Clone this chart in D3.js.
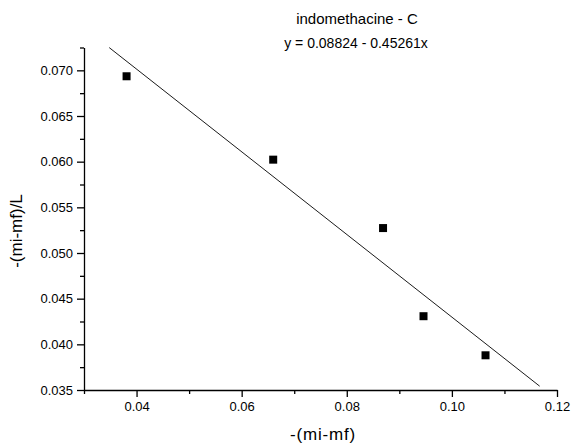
<!DOCTYPE html>
<meta charset="utf-8">
<style>
body { margin: 0; background: #fff; }
svg { font-family: "Liberation Sans", Arial, sans-serif; }
.axis path, .axis line { stroke: #000; stroke-width: 1.3; }
.axis text { font-size: 13px; fill: #000; }
</style>
<svg width="585" height="447"></svg>
<script src="https://d3js.org/d3.v7.min.js"></script>
<script>

// data
var xVals = [0.0381, 0.0660, 0.0869, 0.0946, 0.1064];
var yVals = [0.06935, 0.06022, 0.05273, 0.04308, 0.03880];

// fit line  y = a + b x
var fitA = 0.08824, fitB = -0.45261;
var fitRange = [0.0348, 0.1167];

var xTicks = [0.04, 0.06, 0.08, 0.10, 0.12];
var yTicks = [0.035, 0.040, 0.045, 0.050, 0.055, 0.060, 0.065, 0.070];
var xMinor = [0.03, 0.05, 0.07, 0.09, 0.11];
var yMinor = [0.0375, 0.0425, 0.0475, 0.0525, 0.0575, 0.0625, 0.0675, 0.0725];

var svg = d3.select("svg");

var x = d3.scaleLinear().domain([0.03, 0.12]).range([84, 557]);
var y = d3.scaleLinear().domain([0.035, 0.0725]).range([390, 47.5]);

//minor ticks first
svg.append("g")
    .attr("class", "axis")
    .attr("transform", "translate(0,390)")
    .call(d3.axisBottom(x).tickValues(xMinor).tickSize(4).tickFormat(""))
    .select(".domain").remove();
svg.append("g")
    .attr("class", "axis")
    .attr("transform", "translate(84,0)")
    .call(d3.axisLeft(y).tickValues(yMinor).tickSize(4).tickFormat(""))
    .select(".domain").remove();

//major axes
svg.append("g")
    .attr("class", "axis")
    .attr("transform", "translate(0,390)")
    .call(d3.axisBottom(x).tickValues(xTicks).tickSizeInner(7).tickSizeOuter(0).tickPadding(5)
      .tickFormat(d3.format(".2f")));

svg.append("g")
    .attr("class", "axis")
    .attr("transform", "translate(84,0)")
    .call(d3.axisLeft(y).tickValues(yTicks).tickSizeInner(7).tickSizeOuter(0).tickPadding(4)
      .tickFormat(d3.format(".3f")));

// fit line
svg.append("line")
    .attr("x1", x(fitRange[0]))
    .attr("y1", y(fitA + fitB * fitRange[0]))
    .attr("x2", x(fitRange[1]))
    .attr("y2", y(fitA + fitB * fitRange[1]))
    .attr("stroke", "#000")
    .attr("stroke-width", 0.9);

// points
var s = 8;
svg.append("g")
  .selectAll("rect")
  .data(xVals)
  .enter().append("rect")
    .attr("x", function(d){ return x(d) - s/2; })
    .attr("y", function(d, i){ return y(yVals[i]) - s/2; })
    .attr("width", s)
    .attr("height", s)
    .attr("fill", "#000");

// titles
svg.append("text")
    .attr("x", 357).attr("y", 24)
    .attr("text-anchor", "middle")
    .style("font-size", "15px")
    .text("indomethacine - C");
svg.append("text")
    .attr("x", 356).attr("y", 48)
    .attr("text-anchor", "middle")
    .style("font-size", "14px")
    .text("y = 0.08824 - 0.45261x");

svg.append("text")
    .attr("x", 323).attr("y", 440)
    .attr("text-anchor", "middle")
    .style("font-size", "17px")
    .style("letter-spacing", "0.8px")
    .text("-(mi-mf)");

svg.append("text")
    .attr("transform", "translate(22,231) rotate(-90)")
    .attr("text-anchor", "middle")
    .style("font-size", "17px")
    .text("-(mi-mf)/L");

</script>
